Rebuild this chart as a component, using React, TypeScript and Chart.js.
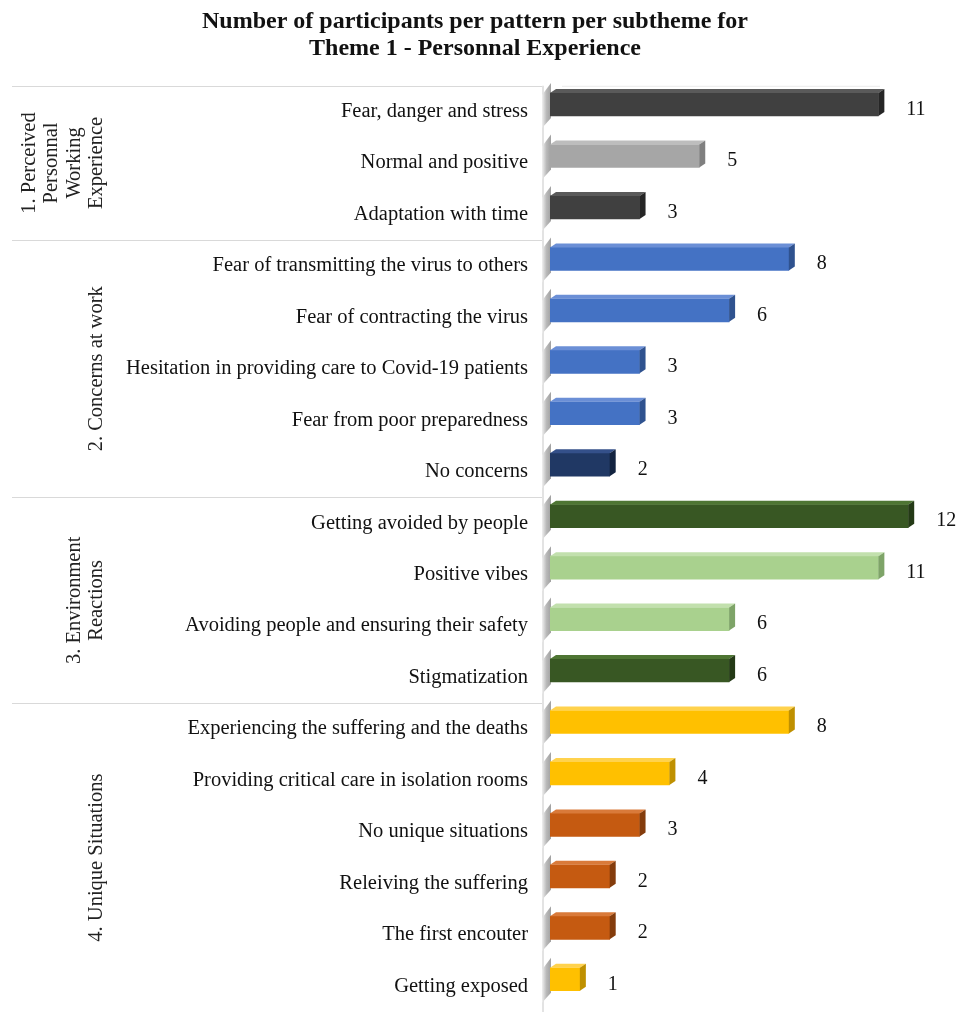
import { useEffect, useRef } from "react";
import { Chart, registerables } from "chart.js";

Chart.register(...registerables);

const titleLines = [
  "Number of participants per pattern per subtheme for",
  "Theme 1 - Personnal Experience",
];

const categories = [
  "Fear, danger and stress",
  "Normal and positive",
  "Adaptation with time",
  "Fear of transmitting the virus to others",
  "Fear of contracting the virus",
  "Hesitation in providing care to Covid-19 patients",
  "Fear from poor preparedness",
  "No concerns",
  "Getting avoided by people",
  "Positive vibes",
  "Avoiding people and ensuring their safety",
  "Stigmatization",
  "Experiencing the suffering and the deaths",
  "Providing critical care in isolation rooms",
  "No unique situations",
  "Releiving the suffering",
  "The first encouter",
  "Getting exposed",
];

const values = [11, 5, 3, 8, 6, 3, 3, 2, 12, 11, 6, 6, 8, 4, 3, 2, 2, 1];

const frontColors = [
  "#404040", "#a6a6a6", "#404040",
  "#4472c4", "#4472c4", "#4472c4", "#4472c4", "#203864",
  "#385723", "#a9d18e", "#a9d18e", "#385723",
  "#ffc000", "#ffc000", "#c55a11", "#c55a11", "#c55a11", "#ffc000",
];
const sideColors = [
  "#262626", "#7f7f7f", "#262626",
  "#2f528f", "#2f528f", "#2f528f", "#2f528f", "#132340",
  "#243a16", "#7ea468", "#7ea468", "#243a16",
  "#bf9000", "#bf9000", "#843c0c", "#843c0c", "#843c0c", "#bf9000",
];
const topColors = [
  "#5a5a5a", "#bdbdbd", "#5a5a5a",
  "#6b8fd6", "#6b8fd6", "#6b8fd6", "#6b8fd6", "#34508a",
  "#4e7533", "#c2e0ad", "#c2e0ad", "#4e7533",
  "#ffd24d", "#ffd24d", "#d97a3a", "#d97a3a", "#d97a3a", "#ffd24d",
];

const groupLabels = [
  ["1. Perceived", "Personnal", "Working", "Experience"],
  ["2. Concerns at work"],
  ["3. Environment", "Reactions"],
  ["4. Unique Situations"],
];
const groupSizes = [3, 5, 4, 6];

const SERIF = "'Times New Roman', 'Liberation Serif', serif";
const DX = 6;
const DY = 4;
const SHIFT = -7;

const threeDPlugin = {
  id: "threeD",
  beforeDraw(chart: any) {
    const { ctx, chartArea, scales } = chart;
    const y = scales.y;
    ctx.save();
    // group separators
    ctx.strokeStyle = "#d9d9d9";
    ctx.lineWidth = 1;
    let idx = 0;
    const bounds: number[] = [chartArea.top];
    groupSizes.forEach((n) => {
      idx += n;
      if (idx < categories.length) {
        bounds.push(
          (y.getPixelForValue(idx - 1) + y.getPixelForValue(idx)) / 2
        );
      } else {
        bounds.push(chartArea.bottom);
      }
    });
    for (let i = 0; i < bounds.length - 1; i++) {
      const by = Math.round(bounds[i]) + 0.5;
      ctx.beginPath();
      ctx.moveTo(12, by);
      ctx.lineTo(chartArea.left - 8, by);
      ctx.stroke();
    }
    // faint top line of plot
    ctx.strokeStyle = "#ececec";
    ctx.beginPath();
    ctx.moveTo(chartArea.left + 12, chartArea.top + 0.5);
    ctx.lineTo(chartArea.left + 330, chartArea.top + 0.5);
    ctx.stroke();
    // wall line
    ctx.strokeStyle = "#dadada";
    ctx.lineWidth = 1.5;
    ctx.beginPath();
    ctx.moveTo(chartArea.left - 7, chartArea.top);
    ctx.lineTo(chartArea.left - 7, chartArea.bottom);
    ctx.stroke();
    // group labels
    ctx.fillStyle = "#222";
    ctx.font = `20.5px ${SERIF}`;
    ctx.textAlign = "center";
    ctx.textBaseline = "middle";
    for (let g = 0; g < groupLabels.length; g++) {
      const cy = (bounds[g] + bounds[g + 1]) / 2;
      const lines = groupLabels[g];
      const n = lines.length;
      lines.forEach((line, j) => {
        const x = 97 - (n - 1 - j) * 22.5;
        ctx.save();
        ctx.translate(x, cy);
        ctx.rotate(-Math.PI / 2);
        ctx.fillText(line, 0, 0);
        ctx.restore();
      });
    }
    ctx.restore();
  },
  beforeDatasetsDraw(chart: any) {
    const { ctx } = chart;
    ctx.save();
    ctx.translate(0, SHIFT);
    const meta = chart.getDatasetMeta(0);
    meta.data.forEach((bar: any) => {
      const p = bar.getProps(["x", "y", "base", "height"], true);
      const top = p.y - p.height / 2;
      const bottom = p.y + p.height / 2;
      const l = p.base - 8;
      const r = p.base + 1;
      const grad = ctx.createLinearGradient(l, 0, r, 0);
      grad.addColorStop(0, "rgba(240,240,240,1)");
      grad.addColorStop(0.5, "rgba(185,185,185,1)");
      grad.addColorStop(1, "rgba(160,160,160,1)");
      ctx.fillStyle = grad;
      ctx.beginPath();
      ctx.moveTo(l, top + 2);
      ctx.lineTo(r, top - 10);
      ctx.lineTo(r, bottom + 2);
      ctx.lineTo(l, bottom + 12);
      ctx.closePath();
      ctx.fill();
    });
  },
  afterDatasetsDraw(chart: any) {
    const { ctx, scales } = chart;
    const meta = chart.getDatasetMeta(0);
    meta.data.forEach((bar: any, i: number) => {
      const p = bar.getProps(["x", "y", "base", "height"], true);
      const top = p.y - p.height / 2;
      const bottom = p.y + p.height / 2;
      // top face
      ctx.fillStyle = topColors[i];
      ctx.beginPath();
      ctx.moveTo(p.base, top);
      ctx.lineTo(p.base + DX, top - DY);
      ctx.lineTo(p.x + DX, top - DY);
      ctx.lineTo(p.x, top);
      ctx.closePath();
      ctx.fill();
      // side face
      ctx.fillStyle = sideColors[i];
      ctx.beginPath();
      ctx.moveTo(p.x, top);
      ctx.lineTo(p.x + DX, top - DY);
      ctx.lineTo(p.x + DX, bottom - DY);
      ctx.lineTo(p.x, bottom);
      ctx.closePath();
      ctx.fill();
    });
    ctx.restore();
    // value labels
    ctx.save();
    ctx.fillStyle = "#111";
    ctx.font = `20px ${SERIF}`;
    ctx.textAlign = "left";
    ctx.textBaseline = "middle";
    values.forEach((v, i) => {
      const x = scales.x.getPixelForValue(v) + DX + 22;
      const y = scales.y.getPixelForValue(i) - 2;
      ctx.fillText(String(v), x, y);
    });
    ctx.restore();
  },
};

export default function App() {
  const ref = useRef<HTMLCanvasElement | null>(null);
  useEffect(() => {
    if (!ref.current) return;
    const chart = new Chart(ref.current, {
      type: "bar",
      data: {
        labels: categories,
        datasets: [
          {
            data: values,
            backgroundColor: frontColors,
            borderWidth: 0,
            barThickness: 23,
          },
        ],
      },
      options: {
        indexAxis: "y",
        responsive: false,
        animation: false,
        layout: { padding: { left: 0, right: 9, top: 0, bottom: 0 } },
        plugins: {
          legend: { display: false },
          tooltip: { enabled: false },
          title: {
            display: true,
            text: titleLines,
            color: "#111",
            font: { family: SERIF, size: 24, weight: "bold", lineHeight: 1.1 },
            padding: { top: 9, bottom: 24 },
          },
        },
        scales: {
          x: {
            display: false,
            min: 0,
            max: 13.4,
          },
          y: {
            grid: { display: false, drawTicks: false },
            border: { display: false },
            ticks: {
              color: "#111",
              padding: 22,
              autoSkip: false,
              font: { family: SERIF, size: 20.5 },
            },
            afterFit: (s: any) => {
              s.width = 550;
              s.paddingTop = 0;
              s.paddingBottom = 0;
            },
          },
        },
      },
      plugins: [threeDPlugin],
    } as any);
    return () => chart.destroy();
  }, []);
  return (
    <div style={{ position: "fixed", left: 0, top: 0, width: 959, height: 1012, background: "#fff" }}>
      <canvas ref={ref} width={959} height={1012} style={{ display: "block" }} />
    </div>
  );
}
